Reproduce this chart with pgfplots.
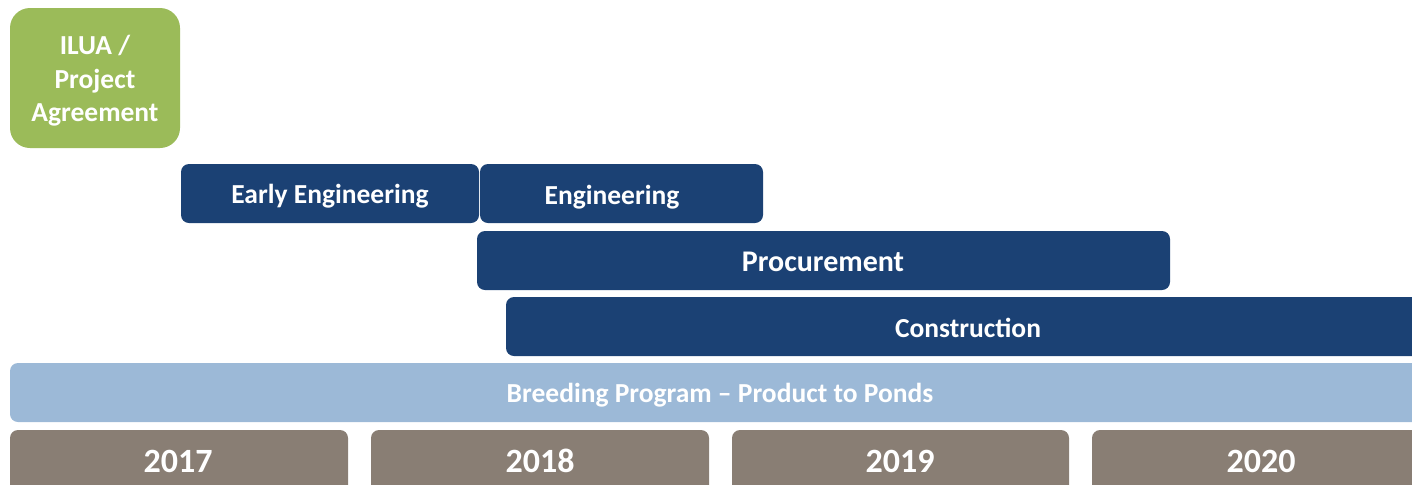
\documentclass[border=0pt]{standalone}
\usepackage{pgfplots}
\pgfplotsset{compat=1.18}
\usepackage{fontspec}
\setmainfont{Carlito}
\definecolor{navy}{RGB}{27,65,116}
\definecolor{lgreen}{RGB}{155,187,89}
\definecolor{lblue}{RGB}{156,185,215}
\definecolor{taupe}{RGB}{137,126,116}
\tikzset{lbl/.style={font=\fontsize{13.75pt}{16.75pt}\selectfont\bfseries, text=white, inner sep=0pt, anchor=base},
         big/.style={font=\fontsize{15pt}{18pt}\selectfont\bfseries, text=white, inner sep=0pt, anchor=base},
         yr/.style={font=\fontsize{17pt}{20pt}\selectfont\bfseries, text=white, inner sep=0pt, anchor=base}}
\begin{document}
\begin{tikzpicture}[x=1pt,y=1pt]
\begin{axis}[
  scale only axis, width=706pt, height=242pt,
  xmin=0, xmax=1412, ymin=0, ymax=484, y dir=reverse,
  hide axis, clip=true,
]
% ILUA / Project Agreement
\addplot[fill=lgreen, draw=none, rounded corners=10pt] coordinates {(95,8) (180,8) (180,148) (10,148) (10,8)} -- cycle;
% Early Engineering
\addplot[fill=navy, draw=none, rounded corners=4pt] coordinates {(330,164) (479,164) (479,223) (181,223) (181,164)} -- cycle;
% Engineering
\addplot[fill=navy, draw=none, rounded corners=4pt] coordinates {(620,164) (763,164) (763,223) (480,223) (480,164)} -- cycle;
% Procurement
\addplot[fill=navy, draw=none, rounded corners=4pt] coordinates {(820,231) (1170,231) (1170,290) (477,290) (477,231)} -- cycle;
% Construction
\addplot[fill=navy, draw=none, rounded corners=4pt] coordinates {(960,297) (1430,297) (1430,356) (506,356) (506,297)} -- cycle;
% Breeding Program
\addplot[fill=lblue, draw=none, rounded corners=4pt] coordinates {(720,363) (1430,363) (1430,422) (10,422) (10,363)} -- cycle;
% Years
\addplot[fill=taupe, draw=none, rounded corners=4pt] coordinates {(180,430) (348,430) (348,500) (10,500) (10,430)} -- cycle;
\addplot[fill=taupe, draw=none, rounded corners=4pt] coordinates {(540,430) (709,430) (709,500) (371,500) (371,430)} -- cycle;
\addplot[fill=taupe, draw=none, rounded corners=4pt] coordinates {(900,430) (1069,430) (1069,500) (732,500) (732,430)} -- cycle;
\addplot[fill=taupe, draw=none, rounded corners=4pt] coordinates {(1260,430) (1430,430) (1430,500) (1092,500) (1092,430)} -- cycle;

\node[lbl] at (axis cs:95,54) {ILUA /};
\node[lbl] at (axis cs:95,88) {Project};
\node[lbl] at (axis cs:95,121) {Agreement};
\node[lbl] at (axis cs:330,203) {Early Engineering};
\node[lbl] at (axis cs:612,204) {Engineering};
\node[big] at (axis cs:823,271) {Procurement};
\node[lbl] at (axis cs:968,337) {Construction};
\node[lbl] at (axis cs:720,402) {Breeding Program -- Product to Ponds};
\node[yr] at (axis cs:178,472) {2017};
\node[yr] at (axis cs:540,472) {2018};
\node[yr] at (axis cs:900,472) {2019};
\node[yr] at (axis cs:1261,472) {2020};
\end{axis}
\pgfresetboundingbox
\path[use as bounding box] (current axis.south west) rectangle (current axis.north east);
\end{tikzpicture}
\end{document}
